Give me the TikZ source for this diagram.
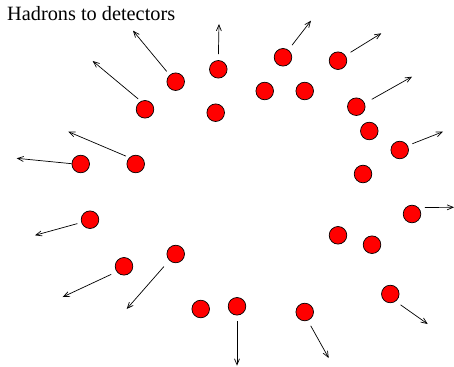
\documentclass[tikz,border=0pt]{standalone}
\usepackage{fontspec}
\setmainfont{Liberation Serif}
\usetikzlibrary{arrows.meta}
\tikzset{
  hadron/.style={circle, draw, fill=red, line width=0.7pt, minimum size=17.6pt, inner sep=0pt},
  hadarrow/.style={-{Straight Barb[length=6pt,width=5pt]}, line width=0.7pt, shorten <=6pt},
  caption/.style={font=\fontsize{20.3}{24}\selectfont, inner sep=0pt}
}

\begin{document}
\begin{tikzpicture}[x=1pt, y=-1pt]
  \useasboundingbox (0,0) rectangle (454,366);
  \node[caption, anchor=base west] (title) at (7,21) {Hadrons to detectors};

  % hadrons
  \node[hadron] (h1) at (175.7,81.7) {};
  \node[hadron] (h2) at (218.3,69.3) {};
  \node[hadron] (h3) at (145,109.3) {};
  \node[hadron] (h4) at (215.7,112.7) {};
  \node[hadron] (h5) at (135.7,164) {};
  \node[hadron] (h6) at (80.7,164) {};
  \node[hadron] (h7) at (283,57.3) {};
  \node[hadron] (h8) at (338,60.7) {};
  \node[hadron] (h9) at (264.7,91) {};
  \node[hadron] (h10) at (304.7,91) {};
  \node[hadron] (h11) at (356.3,106.7) {};
  \node[hadron] (h12) at (369.3,131) {};
  \node[hadron] (h13) at (399.7,150) {};
  \node[hadron] (h14) at (363,174) {};
  \node[hadron] (h15) at (90,219.7) {};
  \node[hadron] (h16) at (124,266.3) {};
  \node[hadron] (h17) at (175.7,254) {};
  \node[hadron] (h18) at (200.7,309) {};
  \node[hadron] (h19) at (412,214) {};
  \node[hadron] (h20) at (338,235.3) {};
  \node[hadron] (h21) at (372,244.7) {};
  \node[hadron] (h22) at (390.3,294) {};
  \node[hadron] (h23) at (237,306.3) {};
  \node[hadron] (h24) at (304.7,312) {};

  % where they fly to
  \coordinate (t1) at (133,30.7);
  \coordinate (t2) at (219,24);
  \coordinate (t3) at (92.7,61);
  \coordinate (t5) at (68.3,131.7);
  \coordinate (t6) at (16.7,158.3);
  \coordinate (t7) at (311,20.7);
  \coordinate (t8) at (381.3,33.3);
  \coordinate (t11) at (412,76.7);
  \coordinate (t13) at (443,131.7);
  \coordinate (t15) at (35,235.3);
  \coordinate (t16) at (62.7,297);
  \coordinate (t17) at (126.7,309);
  \coordinate (t19) at (454,207.3);
  \coordinate (t22) at (427.7,324);
  \coordinate (t23) at (237,365.7);
  \coordinate (t24) at (328.7,358);

  \draw[hadarrow, shorten <=4.5pt] (h1.132) -- (t1);
  \draw[hadarrow] (h2.90) -- (t2);
  \draw[hadarrow, shorten <=3.5pt] (h3.117) -- (t3);
  \draw[hadarrow, shorten <=3.5pt] (h5.135) -- (t5);
  \draw[hadarrow, shorten <=0pt] (h6.178) -- (t6);
  \draw[hadarrow] (h7.54) -- (t7);
  \draw[hadarrow] (h8.35) -- (t8);
  \draw[hadarrow, shorten <=8pt] (h11.22) -- (t11);
  \draw[hadarrow, shorten <=5pt] (h13.29) -- (t13);
  \draw[hadarrow, shorten <=4pt] (h15.198) -- (t15);
  \draw[hadarrow] (h16.217) -- (t16);
  \draw[hadarrow, shorten <=8pt] (h17.225) -- (t17);
  \draw[hadarrow, shorten <=6.5pt] (h19.45) -- (t19);
  \draw[hadarrow] (h22.306) -- (t22);
  \draw[hadarrow] (h23.270) -- (t23);
  \draw[hadarrow] (h24.290) -- (t24);
\end{tikzpicture}
\end{document}
